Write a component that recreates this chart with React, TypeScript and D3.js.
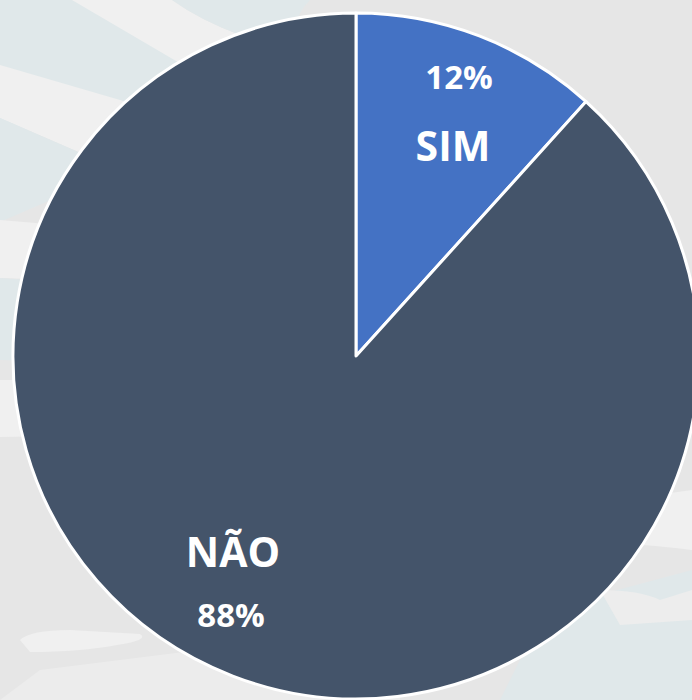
import React from "react";
import * as d3 from "d3";

const categories = ["SIM", "NÃO"];
const values = [11.7, 88.3];
const percentLabels = ["12%", "88%"];
const colors = ["#4472C4", "#44546A"];

const W = 692;
const H = 700;

export default function App() {
  const cx = 356;
  const cy = 356;
  const r = 343;
  const pie = d3.pie<number>().sort(null).value((d) => d);
  const arcs = pie(values);
  const arcGen = d3.arc<d3.PieArcDatum<number>>().innerRadius(0).outerRadius(r);
  const font = "'Open Sans', 'Noto Sans', sans-serif";

  return (
    <div style={{ position: "absolute", left: 0, top: 0 }}>
      <svg width={W} height={H} style={{ display: "block" }}>
        <rect width={W} height={H} fill="#E6E6E6" />
        {/* decorative background map shapes */}
        <path d="M0,0 L72,0 L200,60 L330,130 L0,130 Z" fill="#E0E8EA" />
        <path d="M72,0 L172,0 Q200,20 240,35 L330,70 L330,150 L200,75 Z" fill="#F0F0F0" />
        <path d="M172,0 L310,0 Q290,20 300,40 L240,35 Q200,20 172,0 Z" fill="#E0E8EA" />
        <path d="M0,65 L120,100 L200,130 L120,170 L0,118 Z" fill="#F0F0F0" />
        <path d="M0,118 L120,170 L0,222 Z" fill="#E0E8EA" />
        <path d="M0,220 L60,225 L60,280 L0,278 Z" fill="#F0F0F0" />
        <path d="M0,278 L60,282 L60,362 L0,360 Z" fill="#E0E8EA" />
        <path d="M0,380 L60,380 L60,436 L0,437 Z" fill="#F0F0F0" />
        <path d="M20,640 Q30,630 70,630 L140,634 Q150,640 117,645 Q80,652 30,652 Z" fill="#F0F0F0" />
        <path d="M0,700 L40,670 L200,650 L400,640 L400,700 Z" fill="#ECECEC" />
        <path d="M620,500 L692,490 L692,550 Q650,545 640,545 Z" fill="#F0F0F0" />
        <path d="M580,600 L692,570 L692,700 L500,700 L520,660 Z" fill="#E0E8EA" />
        <path d="M600,590 Q640,590 660,600 L692,590 L692,620 L620,625 Z" fill="#EDEDED" />

        <g transform={`translate(${cx},${cy})`}>
          {arcs.map((a, i) => (
            <path
              key={categories[i]}
              d={arcGen(a) || ""}
              fill={colors[i]}
              stroke="#FFFFFF"
              strokeWidth={3}
              strokeLinejoin="round"
            />
          ))}
        </g>

        <g fill="#FFFFFF" fontFamily={font} fontWeight={700} textAnchor="middle">
          <text x={459} y={89} fontSize={33}>{percentLabels[0]}</text>
          <text x={453} y={161} fontSize={41}>{categories[0]}</text>
          <text x={233} y={567} fontSize={41}>{categories[1]}</text>
          <text x={231} y={627} fontSize={33}>{percentLabels[1]}</text>
        </g>
      </svg>
    </div>
  );
}
